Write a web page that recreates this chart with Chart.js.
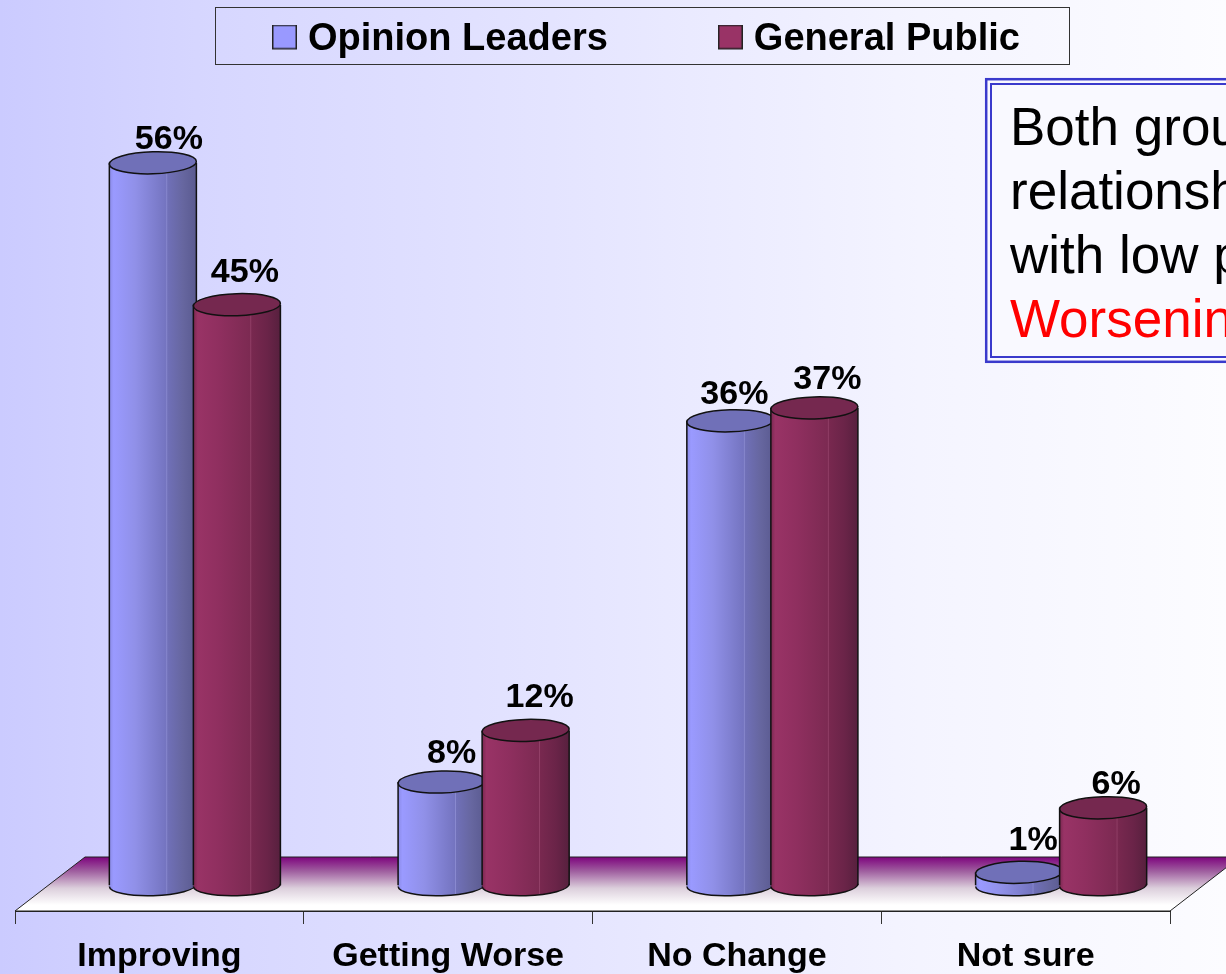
<!DOCTYPE html>
<html>
<head>
<meta charset="utf-8">
<style>html,body{margin:0;padding:0;width:1226px;height:974px;overflow:hidden;background:#fff}canvas{display:block}</style>
<script src="https://cdn.jsdelivr.net/npm/chart.js@4"></script>
</head>
<body>
<canvas id="c" width="1226" height="974"></canvas>
<script>
const categories = ["Improving", "Getting Worse", "No Change", "Not sure"];
const seriesNames = ["Opinion Leaders", "General Public"];
const opinionLeaders = [56, 8, 36, 1];
const generalPublic = [45, 12, 37, 6];
const noteLines = ["Both grou", "relationsh", "with low p", "Worsenin"];

const FONT = '"Liberation Sans", Arial, sans-serif';
const DEPTH_X = 35.5;
const labelNudge = [[[16,-23],[10,-28],[4,-26],[14,-32]], [[8,-32],[14,-33],[13,-28],[13,-23]]];
const swatchColors = ["#9999ff", "#993366"];
const capColors = ["#7070b8", "#75284f"];
const bodyStops = [
  [[0,"#8c8ce8"],[0.05,"#9a9aff"],[0.3,"#9090e8"],[0.65,"#7474c0"],[0.66,"#8a8ad0"],[0.67,"#7070b8"],[0.85,"#66669f"],[1,"#5a5a90"]],
  [[0,"#7a2850"],[0.05,"#993366"],[0.3,"#8f2f5f"],[0.65,"#7c2a52"],[0.66,"#934068"],[0.67,"#78284f"],[0.85,"#6a2448"],[1,"#57203e"]]
];

function bodyGradient(ctx, cx, halfW, series) {
  const g = ctx.createLinearGradient(cx - halfW, 0, cx + halfW, 0);
  bodyStops[series].forEach(s => g.addColorStop(s[0], s[1]));
  return g;
}
function swatch(color) {
  const s = document.createElement('canvas');
  s.width = 25; s.height = 31;
  const x = s.getContext('2d');
  x.fillStyle = color; x.fillRect(0, 0, 25, 25);
  x.strokeStyle = '#222'; x.lineWidth = 1.5; x.strokeRect(0.75, 0.75, 23.5, 23.5);
  return s;
}
const swatches = swatchColors.map(c => swatch(c));

function paintBottoms(chart, index) {
  const {ctx} = chart;
  chart.getDatasetMeta(index).data.forEach(el => {
    ctx.beginPath();
    ctx.ellipse(el.x, el.base, el.width / 2, 10.5, -0.03, 0, Math.PI);
    ctx.lineTo(el.x - el.width / 2, el.base - 3);
    ctx.lineTo(el.x + el.width / 2, el.base - 3);
    ctx.closePath();
    ctx.fillStyle = bodyGradient(ctx, el.x, el.width / 2, index);
    ctx.fill();
  });
}
function paintOutlines(chart, index) {
  const {ctx} = chart;
  ctx.strokeStyle = '#111';
  ctx.lineWidth = 1.5;
  chart.getDatasetMeta(index).data.forEach(el => {
    const l = el.x - el.width / 2, r = el.x + el.width / 2;
    ctx.beginPath();
    ctx.moveTo(l, el.y); ctx.lineTo(l, el.base);
    ctx.moveTo(r, el.y); ctx.lineTo(r, el.base);
    ctx.stroke();
    ctx.beginPath();
    ctx.ellipse(el.x, el.base, el.width / 2, 10.5, -0.03, 0, Math.PI);
    ctx.stroke();
    ctx.beginPath();
    ctx.ellipse(el.x, el.y, el.width / 2, 11, -0.03, 0, Math.PI * 2);
    ctx.fillStyle = capColors[index];
    ctx.fill();
    ctx.stroke();
  });
}

const cylinders = {
  id: 'cylinders',
  beforeLayout(chart) {
    const lg = chart.legend;
    if (lg && !lg._flat) {
      const fit = lg.fit;
      lg.fit = function () { fit.call(this); this.height = 0; };
      lg._flat = true;
    }
  },
  beforeDraw(chart) {
    const {ctx, width, height} = chart;
    const g = ctx.createLinearGradient(0, 0, width, 0);
    g.addColorStop(0, '#cbcbff');
    g.addColorStop(0.16, '#d6d6ff');
    g.addColorStop(0.45, '#e4e4ff');
    g.addColorStop(0.75, '#f4f4ff');
    g.addColorStop(1, '#fcfcff');
    ctx.save();
    ctx.fillStyle = g;
    ctx.fillRect(0, 0, width, height);
    ctx.strokeStyle = '#333';
    ctx.lineWidth = 1;
    ctx.strokeRect(215.5, 7.5, 854, 57);
    ctx.restore();
  },
  afterLayout(chart) {
    const lg = chart.legend;
    lg.left = 280 - 118;
    lg.right = 1300;
    lg.top = 40 - 118 - 19;
    lg.bottom = lg.top + 180;
  },
  beforeDatasetsDraw(chart) {
    const {ctx, chartArea, scales} = chart;
    const L = scales.x.left, R = scales.x.right, B = chartArea.bottom, T = B - 54;
    const g = ctx.createLinearGradient(0, T, 0, B - 6);
    g.addColorStop(0, '#7d047d');
    g.addColorStop(0.3, '#a060a0');
    g.addColorStop(0.65, '#dccfdc');
    g.addColorStop(1, '#ffffff');
    ctx.save();
    ctx.beginPath();
    ctx.moveTo(L, B); ctx.lineTo(R, B); ctx.lineTo(R + 70, T); ctx.lineTo(L + 70, T); ctx.closePath();
    ctx.fillStyle = g;
    ctx.fill();
    ctx.strokeStyle = '#222';
    ctx.lineWidth = 1;
    ctx.stroke();
    ctx.restore();
  },
  beforeDatasetDraw(chart, args) {
    if (args.index === 1) return false; // painted after series 0, so it sits in front
    chart.ctx.save();
    chart.ctx.translate(DEPTH_X, 0);
    paintBottoms(chart, 0);
  },
  afterDatasetDraw(chart, args) {
    paintOutlines(chart, 0);
    paintBottoms(chart, 1);
    chart.getDatasetMeta(1).controller.draw();
    paintOutlines(chart, 1);
    chart.ctx.restore();
  },
  afterDatasetsDraw(chart) {
    const {ctx, data} = chart;
    ctx.save();
    ctx.font = 'bold 34px ' + FONT;
    ctx.fillStyle = '#000';
    ctx.textAlign = 'center';
    ctx.textBaseline = 'middle';
    data.datasets.forEach((ds, i) => {
      chart.getDatasetMeta(i).data.forEach((el, j) => {
        const n = labelNudge[i][j];
        ctx.fillText(ds.data[j] + '%', el.x + DEPTH_X + n[0], el.y + n[1]);
      });
    });
    ctx.restore();
  },
  afterDraw(chart) {
    const {ctx} = chart;
    ctx.save();
    ctx.fillStyle = '#f9f9ff';
    ctx.fillRect(986, 79, 260, 283);
    ctx.strokeStyle = '#3a3acc';
    ctx.lineWidth = 2.5;
    ctx.strokeRect(986.2, 79.2, 260, 282.6);
    ctx.lineWidth = 2;
    ctx.strokeRect(991, 84, 260, 273);
    ctx.font = '53px ' + FONT;
    ctx.textAlign = 'left';
    ctx.textBaseline = 'alphabetic';
    const base = [145, 209, 273, 337];
    noteLines.forEach((t, i) => {
      ctx.fillStyle = i === 3 ? '#ff0000' : '#000000';
      ctx.fillText(t, 1010, base[i]);
    });
    ctx.restore();
  }
};

new Chart(document.getElementById('c'), {
  type: 'bar',
  data: {
    labels: categories,
    datasets: [opinionLeaders, generalPublic].map((values, s) => ({
      label: seriesNames[s],
      data: values,
      borderWidth: 0,
      categoryPercentage: 0.582,
      barPercentage: 1.036,
      backgroundColor(c) {
        if (c.type !== 'data') return swatchColors[s];
        const cx = c.chart.scales.x.getPixelForValue(c.dataIndex) + (s ? 42 : -42);
        return bodyGradient(c.chart.ctx, cx, 43.5, s);
      }
    }))
  },
  options: {
    responsive: false,
    animation: false,
    layout: {padding: {left: 15, right: 56, top: 8, bottom: 0}},
    scales: {
      x: {
        afterFit(scale) { scale.height = 63; },
        grid: {display: true, drawOnChartArea: false, drawTicks: true, tickLength: 13, tickColor: '#333', color: '#333'},
        border: {display: true, color: '#222'},
        ticks: {color: '#000', padding: 12, maxRotation: 0, autoSkip: false, font: {family: FONT, size: 34, weight: 'bold'}}
      },
      y: {display: false, min: -2, max: 68}
    },
    plugins: {
      tooltip: {enabled: false},
      title: {display: false},
      legend: {
        position: 'top',
        align: 'start',
        labels: {
          usePointStyle: true,
          pointStyleWidth: 9,
          boxHeight: 25,
          padding: 118,
          color: '#000',
          font: {family: FONT, size: 38, weight: 'bold'},
          generateLabels: () => seriesNames.map((n, i) => ({text: n, pointStyle: swatches[i], datasetIndex: i, fontColor: '#000', lineWidth: 0}))
        }
      }
    }
  },
  plugins: [cylinders]
});
</script>
</body>
</html>
